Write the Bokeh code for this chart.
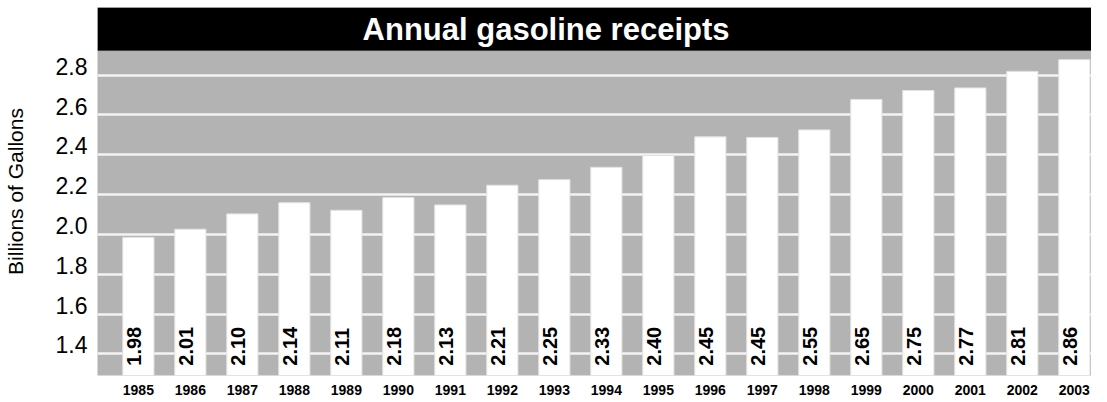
from bokeh.plotting import figure
from bokeh.models import ColumnDataSource, FixedTicker, CustomJSTickFormatter, BoxAnnotation, Label
from bokeh.core.properties import value
from bokeh.embed import file_html
from bokeh.resources import INLINE
import math

# ---- data ----
years = [1985, 1986, 1987, 1988, 1989, 1990, 1991, 1992, 1993, 1994,
         1995, 1996, 1997, 1998, 1999, 2000, 2001, 2002, 2003]
bar_heights = [1.985, 2.026, 2.103, 2.159, 2.121, 2.185, 2.148, 2.247, 2.275, 2.337,
               2.397, 2.490, 2.487, 2.525, 2.678, 2.723, 2.736, 2.819, 2.878]
value_labels = ["1.98", "2.01", "2.10", "2.14", "2.11", "2.18", "2.13", "2.21", "2.25", "2.33",
                "2.40", "2.45", "2.45", "2.55", "2.65", "2.75", "2.77", "2.81", "2.86"]
y_ticks = [1.4, 1.6, 1.8, 2.0, 2.2, 2.4, 2.6, 2.8]
title_text = "Annual gasoline receipts"
y_label = "Billions of Gallons"

# ---- layout constants ----
Y_START, Y_END = 1.291, 3.14
BAND_BOTTOM = 2.923
X_START, X_END = 1984.214, 2003.33
LABEL_Y = 1.34
TICK_SHIFT = 0.045
FONT = "Liberation Sans"

src = ColumnDataSource(dict(x=years, top=bar_heights, lab=value_labels,
                            ly=[LABEL_Y] * len(years)))

p = figure(width=1091, height=400, output_backend="svg", toolbar_location=None,
           x_range=(X_START, X_END), y_range=(Y_START, Y_END),
           min_border_left=89, min_border_right=0, min_border_top=7, min_border_bottom=25)
p.background_fill_color = "#b3b3b3"
p.border_fill_color = "white"
p.outline_line_color = None

p.vbar(x="x", top="top", bottom=Y_START, width=0.6, source=src,
       fill_color="white", line_color="#e2e2e2", line_width=1)

p.text(x="x", y="ly", text="lab", source=src, angle=math.pi / 2,
       text_align="left", text_baseline="middle", x_offset=-4,
       text_font=value(FONT), text_font_style="bold", text_font_size="20px",
       text_color="black")

# title band
band = BoxAnnotation(bottom=BAND_BOTTOM, fill_color="black", fill_alpha=1.0,
                     line_color="#888888", line_width=1)
p.add_layout(band)
p.add_layout(Label(x=1992.84, y=(BAND_BOTTOM + Y_END) / 2, text=title_text,
                   text_align="center", text_baseline="middle",
                   text_font=FONT, text_font_style="bold", text_font_size="31px",
                   text_color="white"))

# grid
p.xgrid.visible = False
p.ygrid.ticker = FixedTicker(ticks=y_ticks)
p.ygrid.grid_line_color = "#f4f4f4"
p.ygrid.grid_line_width = 2.5

# y axis
p.yaxis.ticker = FixedTicker(ticks=[t + TICK_SHIFT for t in y_ticks])
p.yaxis.formatter = CustomJSTickFormatter(code="return (tick - %s).toFixed(1)" % TICK_SHIFT)
p.yaxis.axis_label = y_label
p.yaxis.axis_label_text_font = FONT
p.yaxis.axis_label_text_font_style = "normal"
p.yaxis.axis_label_text_font_size = "21px"
p.yaxis.axis_label_text_color = "black"
p.yaxis.axis_label_standoff = 26
p.yaxis.major_label_text_font = FONT
p.yaxis.major_label_text_font_size = "23px"
p.yaxis.major_label_text_color = "black"
p.yaxis.major_label_standoff = 10

# x axis
p.xaxis.ticker = FixedTicker(ticks=years)
p.xaxis.major_label_text_font = FONT
p.xaxis.major_label_text_font_style = "bold"
p.xaxis.major_label_text_font_size = "14px"
p.xaxis.major_label_text_color = "black"
p.xaxis.major_label_standoff = 9

for ax in (p.xaxis, p.yaxis):
    ax.axis_line_color = None
    ax.major_tick_line_color = None
    ax.minor_tick_line_color = None
    ax.major_tick_out = 0
    ax.major_tick_in = 0

open("out.html", "w").write(file_html(p, INLINE))
